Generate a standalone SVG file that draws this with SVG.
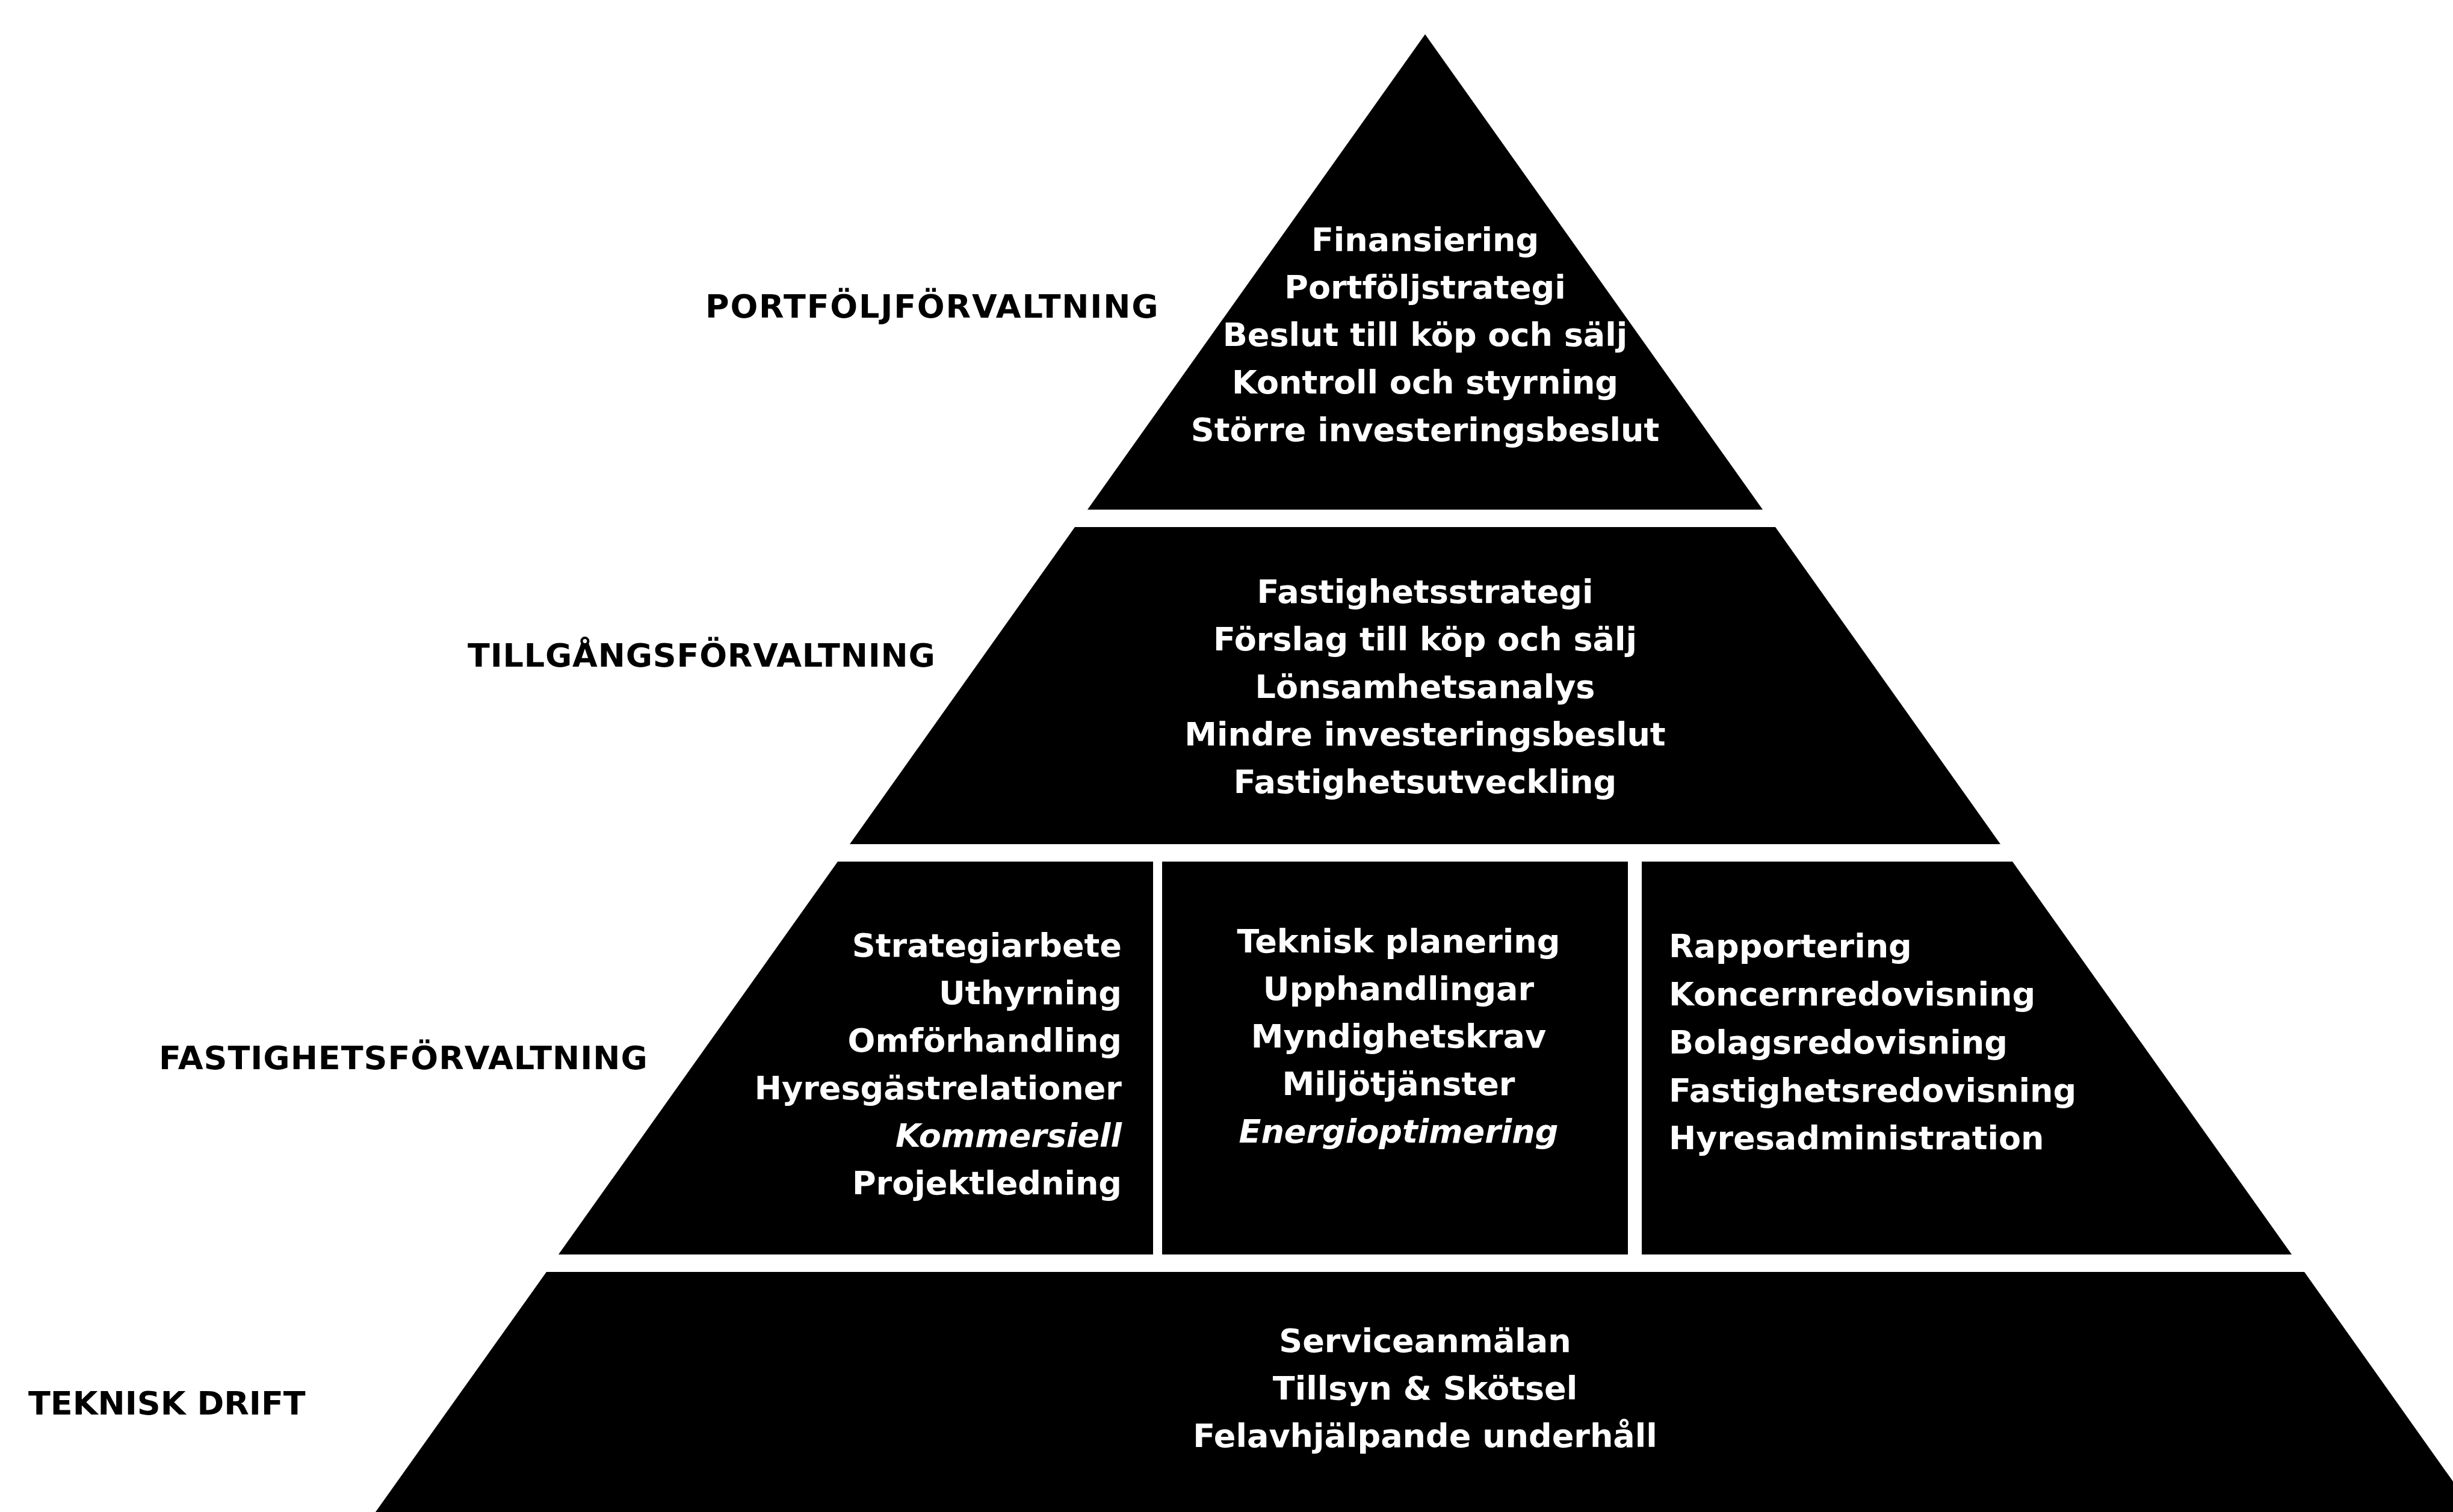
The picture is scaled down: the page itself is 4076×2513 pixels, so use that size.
<svg xmlns="http://www.w3.org/2000/svg" width="4076" height="2513" viewBox="0 0 4076 2513">
<style>
.band{fill:#000}
.t{font-family:"DejaVu Sans","Liberation Sans",sans-serif;font-weight:bold;font-size:54px;fill:#fff}
.c{text-anchor:middle}
.r{text-anchor:end}
.i{font-style:italic}
.lbl{font-family:"DejaVu Sans","Liberation Sans",sans-serif;font-weight:bold;font-size:54px;fill:#000}
</style>
<rect width="4076" height="2513" fill="#fff"/>
<g id="portfolj">
<polygon class="band" points="2368,57 2929,847 1807,847"/>
<text class="t c" x="2368" y="417">Finansiering</text>
<text class="t c" x="2368" y="496">Portföljstrategi</text>
<text class="t c" x="2368" y="575">Beslut till köp och sälj</text>
<text class="t c" x="2368" y="654">Kontroll och styrning</text>
<text class="t c" x="2368" y="733">Större investeringsbeslut</text>
</g>
<g id="tillgang">
<polygon class="band" points="1786,876 2950,876 3324,1403 1412,1403"/>
<text class="t c" x="2368" y="1002">Fastighetsstrategi</text>
<text class="t c" x="2368" y="1081">Förslag till köp och sälj</text>
<text class="t c" x="2368" y="1160">Lönsamhetsanalys</text>
<text class="t c" x="2368" y="1239">Mindre investeringsbeslut</text>
<text class="t c" x="2368" y="1318">Fastighetsutveckling</text>
</g>
<g id="fastighet-left">
<polygon class="band" points="1392,1432 1916,1432 1916,2085 928,2085"/>
<text class="t r" x="1864" y="1590">Strategiarbete</text>
<text class="t r" x="1864" y="1669">Uthyrning</text>
<text class="t r" x="1864" y="1748">Omförhandling</text>
<text class="t r" x="1864" y="1827">Hyresgästrelationer</text>
<text class="t r i" x="1864" y="1906">Kommersiell</text>
<text class="t r" x="1864" y="1985">Projektledning</text>
</g>
<g id="fastighet-mid">
<polygon class="band" points="1931,1432 2705,1432 2705,2085 1931,2085"/>
<text class="t c" x="2324" y="1583">Teknisk planering</text>
<text class="t c" x="2324" y="1662">Upphandlingar</text>
<text class="t c" x="2324" y="1741">Myndighetskrav</text>
<text class="t c" x="2324" y="1820">Miljötjänster</text>
<text class="t c i" x="2324" y="1899">Energioptimering</text>
</g>
<g id="fastighet-right">
<polygon class="band" points="2728,1432 3344,1432 3808,2085 2728,2085"/>
<text class="t" x="2773" y="1591">Rapportering</text>
<text class="t" x="2773" y="1671">Koncernredovisning</text>
<text class="t" x="2773" y="1751">Bolagsredovisning</text>
<text class="t" x="2773" y="1831">Fastighetsredovisning</text>
<text class="t" x="2773" y="1910">Hyresadministration</text>
</g>
<g id="teknisk">
<polygon class="band" points="908,2114 3829,2114 4112,2513 624,2513"/>
<text class="t c" x="2368" y="2247">Serviceanmälan</text>
<text class="t c" x="2368" y="2326">Tillsyn &amp; Skötsel</text>
<text class="t c" x="2368" y="2405">Felavhjälpande underhåll</text>
</g>
<g id="labels">
<text class="lbl" x="1172" y="528" letter-spacing="1.8">PORTFÖLJFÖRVALTNING</text>
<text class="lbl" x="777" y="1108" letter-spacing="0.8">TILLGÅNGSFÖRVALTNING</text>
<text class="lbl" x="264" y="1777" letter-spacing="1">FASTIGHETSFÖRVALTNING</text>
<text class="lbl" x="47" y="2351">TEKNISK DRIFT</text>
</g>
</svg>
